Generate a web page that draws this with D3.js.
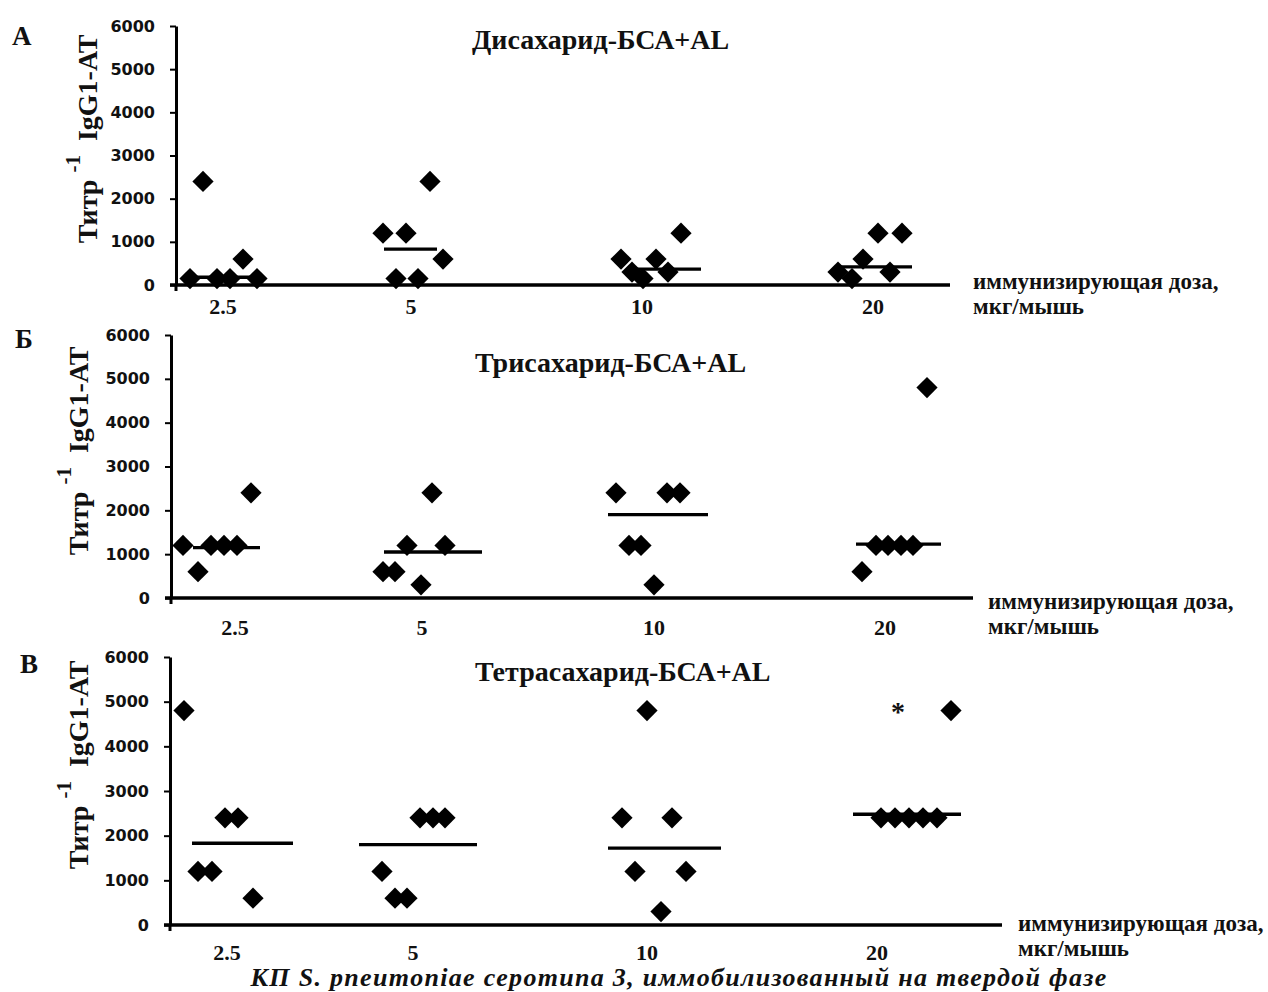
<!DOCTYPE html>
<html>
<head>
<meta charset="utf-8">
<script src="https://cdn.jsdelivr.net/npm/d3@7"></script>
<style>
  body { margin: 0; background: #fff; }
  text { fill: #111; }
</style>
</head>
<body>
<svg id="chart" width="1268" height="992"></svg>
<script>
const doses = ["2.5", "5", "10", "20"];
const yTicks = [0, 1000, 2000, 3000, 4000, 5000, 6000];

// titre values per dose group (6 mice each), with the x position of each dot
const diValues = [[150, 2400, 150, 150, 600, 150], [1200, 150, 1200, 150, 2400, 600],
                  [600, 300, 150, 600, 300, 1200], [300, 150, 600, 1200, 300, 1200]];
const diX = [[2.0, 3.3, 4.7, 6.0, 7.3, 8.7], [21.3, 22.6, 23.6, 24.8, 26.0, 27.3],
             [45.1, 46.2, 47.3, 48.6, 49.8, 51.1], [66.8, 68.2, 69.3, 70.8, 72.0, 73.2]];
const diMedian = [180, 830, 370, 420];
const diMedianFrom = [2.4, 21.4, 46.7, 66.7];
const diMedianTo = [8.0, 26.7, 53.1, 74.2];
const diLabelX = [5.3, 24.1, 47.2, 70.3];

const triValues = [[1200, 600, 1200, 1200, 1200, 2400], [600, 600, 1200, 300, 2400, 1200],
                   [2400, 1200, 1200, 300, 2400, 2400], [600, 1200, 1200, 1200, 1200, 4800]];
const triX = [[1.3, 2.8, 4.1, 5.4, 6.7, 8.1], [21.3, 22.5, 23.7, 25.1, 26.2, 27.5],
              [44.6, 45.9, 47.1, 48.4, 49.7, 51.0], [69.2, 70.6, 71.8, 73.1, 74.3, 75.7]];
const triMedian = [1150, 1050, 1900, 1230];
const triMedianFrom = [2.3, 21.4, 43.8, 68.6];
const triMedianTo = [9.0, 31.2, 53.8, 77.1];
const triLabelX = [6.5, 25.2, 48.4, 71.5];

const tetraValues = [[4800, 1200, 1200, 2400, 2400, 600], [1200, 600, 600, 2400, 2400, 2400],
                     [2400, 1200, 4800, 300, 2400, 1200], [2400, 2400, 2400, 2400, 2400, 4800]];
const tetraX = [[1.4, 2.8, 4.2, 5.5, 6.8, 8.3], [21.2, 22.5, 23.7, 25.0, 26.3, 27.5],
                [45.2, 46.5, 47.7, 49.1, 50.2, 51.6], [71.1, 72.5, 73.9, 75.3, 76.7, 78.1]];
const tetraMedian = [1830, 1800, 1720, 2480];
const tetraMedianFrom = [2.2, 18.9, 43.8, 68.3];
const tetraMedianTo = [12.3, 30.7, 55.1, 79.1];
const tetraLabelX = [5.7, 24.3, 47.7, 70.7];
const tetraStar = { x: 72.8, v: 4850 };

const panels = [
  { letter: "А", title: "Дисахарид-БСА+AL", values: diValues, xs: diX, median: diMedian,
    from: diMedianFrom, to: diMedianTo, labelX: diLabelX,
    top: 26, bottom: 285, axisX: 176, axisEnd: 950, letterPos: [12, 45], titlePos: [472, 49],
    yTitle: [97, 139], tickY: 314, dosePos: [973, 289] },
  { letter: "Б", title: "Трисахарид-БСА+AL", values: triValues, xs: triX, median: triMedian,
    from: triMedianFrom, to: triMedianTo, labelX: triLabelX,
    top: 335, bottom: 598, axisX: 171, axisEnd: 973, letterPos: [15, 348], titlePos: [475, 372],
    yTitle: [88, 451], tickY: 635, dosePos: [988, 609] },
  { letter: "В", title: "Тетрасахарид-БСА+AL", values: tetraValues, xs: tetraX, median: tetraMedian,
    from: tetraMedianFrom, to: tetraMedianTo, labelX: tetraLabelX, star: tetraStar,
    top: 657, bottom: 925, axisX: 170, axisEnd: 1002, letterPos: [20, 673], titlePos: [475, 681],
    yTitle: [88, 765], tickY: 960, dosePos: [1018, 931] }
];

const serif = "'Liberation Serif', 'Times New Roman', serif";
const svg = d3.select("#chart");
const x = d3.scaleLinear().domain([0, 100]).range([170, 1170]);
const diamond = d3.symbol().type(d3.symbolSquare).size(225);

panels.forEach(p => {
  const g = svg.append("g");
  const y = d3.scaleLinear().domain([0, 6000]).range([p.bottom, p.top]);

  // y axis
  const ya = g.append("g")
    .attr("transform", `translate(${p.axisX},0)`)
    .call(d3.axisLeft(y).tickValues(yTicks).tickFormat(d3.format("d"))
      .tickSize(6).tickPadding(15).tickSizeOuter(0));
  ya.select(".domain").attr("stroke", "#000").attr("stroke-width", 3);
  ya.selectAll(".tick line").attr("stroke", "#000").attr("stroke-width", 2);
  ya.selectAll(".tick text")
    .style("font-family", "'DejaVu Sans', Verdana, sans-serif")
    .style("font-weight", "bold").style("font-size", "16px").attr("fill", "#000");

  // x axis line
  g.append("line")
    .attr("x1", p.axisX - 6).attr("x2", p.axisEnd)
    .attr("y1", y(0)).attr("y2", y(0))
    .attr("stroke", "#000").attr("stroke-width", 3.5);
  g.append("line")
    .attr("x1", p.axisX).attr("x2", p.axisX)
    .attr("y1", y(0)).attr("y2", y(0) + 6)
    .attr("stroke", "#000").attr("stroke-width", 3);

  g.selectAll("text.dose").data(p.labelX).enter().append("text")
    .attr("class", "dose")
    .attr("x", d => x(d)).attr("y", p.tickY)
    .attr("text-anchor", "middle")
    .style("font-family", serif).style("font-weight", "bold").style("font-size", "22px")
    .text((d, i) => doses[i]);

  // medians
  g.selectAll("line.median").data(p.median).enter().append("line")
    .attr("class", "median")
    .attr("x1", (d, i) => x(p.from[i])).attr("x2", (d, i) => x(p.to[i]))
    .attr("y1", d => y(d)).attr("y2", d => y(d))
    .attr("stroke", "#000").attr("stroke-width", 3.3);

  // points
  const pts = [];
  p.values.forEach((row, i) => row.forEach((v, j) => pts.push({ v: v, x: p.xs[i][j] })));
  g.selectAll("path.pt").data(pts).enter().append("path")
    .attr("class", "pt")
    .attr("d", diamond)
    .attr("transform", d => `translate(${x(d.x)},${y(d.v)}) rotate(45)`)
    .attr("fill", "#000");

  if (p.star) {
    g.append("text")
      .attr("x", x(p.star.x)).attr("y", y(p.star.v)).attr("dy", 13)
      .attr("text-anchor", "middle")
      .style("font-family", serif).style("font-weight", "bold").style("font-size", "28px")
      .text("*");
  }

  // panel letter & title
  g.append("text").attr("x", p.letterPos[0]).attr("y", p.letterPos[1])
    .style("font-family", serif).style("font-weight", "bold").style("font-size", "27px")
    .text(p.letter);
  g.append("text").attr("x", p.titlePos[0]).attr("y", p.titlePos[1])
    .style("font-family", serif).style("font-weight", "bold").style("font-size", "28px")
    .text(p.title);

  // y title
  const yt = g.append("text")
    .attr("transform", `translate(${p.yTitle[0]},${p.yTitle[1]}) rotate(-90)`)
    .attr("text-anchor", "middle")
    .style("font-family", serif).style("font-weight", "bold").style("font-size", "28px");
  yt.append("tspan").text("Титр");
  yt.append("tspan").attr("dx", 7).attr("dy", -17).style("font-size", "21px").text("-1");
  yt.append("tspan").attr("dx", 14).attr("dy", 17).text("IgG1-АТ");

  // dose axis label
  const dl = g.append("text")
    .style("font-family", serif).style("font-weight", "bold").style("font-size", "23px");
  dl.append("tspan").attr("x", p.dosePos[0]).attr("y", p.dosePos[1]).text("иммунизирующая доза,");
  dl.append("tspan").attr("x", p.dosePos[0]).attr("y", p.dosePos[1] + 25).text("мкг/мышь");
});

svg.append("text")
  .attr("x", 679).attr("y", 986)
  .attr("text-anchor", "middle")
  .style("font-family", serif).style("font-weight", "bold").style("font-style", "italic")
  .style("font-size", "26px").style("letter-spacing", "1.3px")
  .text("КП S. pneumoniae серотипа 3, иммобилизованный на твердой фазе");
</script>
</body>
</html>
